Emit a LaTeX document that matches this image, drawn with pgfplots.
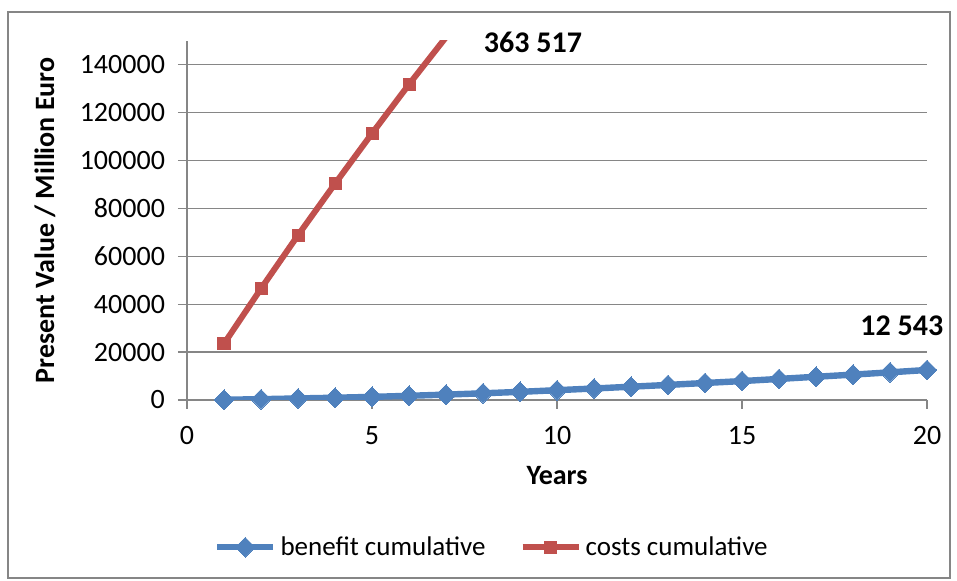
\documentclass[border=0pt]{standalone}
\usepackage{fontspec}
\setmainfont{Carlito}
\usepackage{pgfplots}
\pgfplotsset{compat=1.18}
\definecolor{xlblue}{HTML}{4F81BD}
\definecolor{xlred}{HTML}{C0504D}
\definecolor{xlgrid}{HTML}{868686}
\newcommand{\chartfont}{\fontsize{14}{16.8}\selectfont}

\begin{document}
\begin{tikzpicture}[x=1pt,y=1pt]
% whole picture = 957 x 581 px at 0.5pt per px, origin at (0,0) of the axis
\useasboundingbox (-93.5,-90.5) rectangle (385,200);
\draw[xlgrid, line width=0.6pt] (-89.5,-89) rectangle (381.5,194);
\begin{axis}[
  at={(0,0)}, anchor=origin,
  scale only axis,
  width=370pt, height=179.6pt,
  xmin=0, xmax=20, ymin=0, ymax=150000,
  xtick={0,5,10,15,20},
  ytick={0,20000,40000,60000,80000,100000,120000,140000},
  scaled y ticks=false,
  axis x line*=bottom, axis y line*=left,
  axis line style={xlgrid, line width=0.7pt, -},
  ymajorgrids=true,
  major grid style={xlgrid, line width=0.7pt},
  tick align=outside,
  major tick length=4.5pt,
  tick style={xlgrid, line width=0.7pt},
  ticklabel style={font=\chartfont,
    /pgf/number format/fixed, /pgf/number format/1000 sep={},
    /pgf/number format/assume math mode=true},
  xticklabel style={yshift=-5pt},
  yticklabel style={xshift=-3pt},
  xlabel={\textbf{Years}},
  ylabel={\textbf{Present Value / Million Euro}},
  label style={font=\chartfont},
  xlabel style={at={(axis description cs:0.5,-0.209)}, anchor=center},
  ylabel style={at={(axis description cs:-0.192,0.5)}, anchor=center},
  clip mode=individual,
  legend columns=2,
  legend style={draw=none, fill=none, font=\fontsize{13.5}{16}\selectfont,
    at={(rel axis cs:0.412,-0.41)}, anchor=center,
    /tikz/every odd column/.append style={column sep=1pt},
    /tikz/every even column/.append style={column sep=16pt},
    nodes={inner xsep=1pt}},
  legend image code/.code={\draw[mark repeat=2, mark phase=2, #1]
    plot coordinates {(0pt,0pt) (14pt,0pt) (28pt,0pt)};},
]
\addplot[xlblue, line width=3.2pt, mark=square*, mark size=3.5pt,
  mark options={rotate=45, solid, line width=0pt, fill=xlblue}]
coordinates {
 (1,100) (2,350) (3,650) (4,950) (5,1300) (6,1750) (7,2250) (8,2800)
 (9,3400) (10,4100) (11,4800) (12,5550) (13,6300) (14,7100) (15,7900)
 (16,8800) (17,9700) (18,10600) (19,11550) (20,12543)
};
\addlegendentry{benefit cumulative}
\addplot[xlred, line width=3pt, mark=square*, mark size=3pt,
  mark options={solid, line width=0pt, fill=xlred}]
coordinates {
 (1,23500) (2,46500) (3,68800) (4,90300) (5,111300) (6,131800)
 (7,151500) (8,170700) (9,189400) (10,207600) (11,225300) (12,242500)
 (13,259200) (14,275400) (15,291100) (16,306300) (17,321000) (18,335200)
 (19,348900) (20,363517)
};
\addlegendentry{costs cumulative}
\node[font=\fontsize{15}{18}\selectfont\bfseries] at (axis cs:9.35,149500) {363 517};
\node[font=\fontsize{15}{18}\selectfont\bfseries] at (axis cs:19.32,30900) {12 543};
\end{axis}
\end{tikzpicture}
\end{document}
